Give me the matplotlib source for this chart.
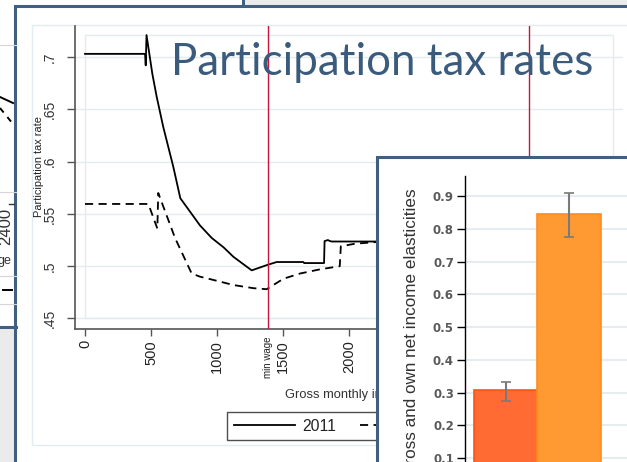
import matplotlib
matplotlib.use('Agg')
import matplotlib.pyplot as plt
from matplotlib.patches import Rectangle

plt.rcParams['font.family'] = ['Liberation Sans', 'DejaVu Sans']

# ---- data ----
income_2011 = [0, 455, 460, 466, 510, 543, 593, 669, 722, 871, 960, 1050, 1124, 1263,
               1376, 1452, 1654, 1660, 1811, 1815, 1840, 1856, 1870, 2250]
ptr_2011 = [0.703, 0.703, 0.692, 0.721, 0.684, 0.662, 0.633, 0.595, 0.565, 0.539,
            0.527, 0.518, 0.509, 0.496, 0.501, 0.504, 0.504, 0.503, 0.503, 0.524,
            0.525, 0.524, 0.5236, 0.5236]

income_other = [0, 480, 548, 555, 682, 808, 871, 1000, 1124, 1275, 1376, 1427, 1503,
                1629, 1780, 1930, 1938, 2045, 2250]
ptr_other = [0.5595, 0.5595, 0.536, 0.570, 0.527, 0.493, 0.490, 0.486, 0.482, 0.479,
             0.478, 0.482, 0.488, 0.493, 0.497, 0.500, 0.519, 0.5215, 0.5235]

series_labels = ['2011', '2014']
min_wage = 1387
second_marker = 3364

x_ticks = [0, 500, 1000, 1500, 2000, 2500, 3000, 3500, 4000]
y_ticks = [0.45, 0.5, 0.55, 0.6, 0.65, 0.7]
y_ticklabels = ['.45', '.5', '.55', '.6', '.65', '.7']

bar_values = [0.309, 0.845]
bar_low = [0.276, 0.775]
bar_high = [0.333, 0.908]
bar_colors = ['#ff6b33', '#ff9a33']
bar_edges = ['#ff5414', '#ff8c1f']
bar_ticks = [0.0, 0.1, 0.2, 0.3, 0.4, 0.5, 0.6, 0.7, 0.8, 0.9]

W, H = 627, 462
DARK = '#41607f'
LIGHT = '#e3ecef'


def rect(x0, y0, x1, y1):
    # pixel box (top-left origin) -> figure fraction
    return [x0 / W, 1 - y1 / H, (x1 - x0) / W, (y1 - y0) / H]


def fx(x):
    return x / W


def fy(y):
    return 1 - y / H


fig = plt.figure(figsize=(W / 100, H / 100), dpi=100)
fig.patch.set_facecolor('white')

# ---- background: neighbouring slides ----
bg = fig.add_axes([0, 0, 1, 1], zorder=0)
bg.set_xlim(0, W)
bg.set_ylim(H, 0)
bg.axis('off')
bg.add_patch(Rectangle((245, 0), 400, 6, color='#ebebeb', lw=0))
bg.add_patch(Rectangle((241.5, 0), 3, 6, color=DARK, lw=0))
bg.add_patch(Rectangle((0, 327), 16, 140, color='#ebebeb', lw=0))
bg.plot([0, 16], [327, 327], color=DARK, lw=2.2)
for yy in [45, 192, 276, 304]:
    bg.plot([0, 16], [yy, yy], color='#d6d6d6', lw=0.8)
bg.plot([0, 13], [97, 103], color='black', lw=1.4)
bg.plot([0, 13], [108, 124], color='black', lw=1.4, ls=(0, (3, 3)))
bg.plot([9, 14], [204, 204], color='#333333', lw=1)
bg.text(6, 226, '2400', rotation=90, ha='center', va='center', fontsize=12, color='#333333')
bg.text(-2, 261, 'ge', ha='left', va='center', fontsize=9, color='#333333')
bg.plot([3, 12], [290, 290], color='black', lw=1.4)

# main slide panel
bg.add_patch(Rectangle((15, 6), 700, 520, facecolor='white', edgecolor=DARK, lw=2.2))
bg.add_patch(Rectangle((32, 25), 620, 420, fill=False, edgecolor=LIGHT, lw=1))

# ---- participation tax rate chart ----
ax = fig.add_axes(rect(75, 26, 623, 329), zorder=1)
ax.set_facecolor('none')
ax.set_xlim(-75.8, 4075.8)
ax.set_ylim(0.43996, 0.72964)
for s in ['top', 'right']:
    ax.spines[s].set_visible(False)
for s in ['left', 'bottom']:
    ax.spines[s].set_color('#555555')
    ax.spines[s].set_linewidth(1.2)

ax.add_patch(Rectangle((0, 0.45), 4000, 0.271, fill=False, edgecolor=LIGHT, lw=1, zorder=1))
ax.set_yticks(y_ticks)
ax.set_yticklabels(y_ticklabels, rotation=90, va='center', fontsize=10, color='#333333')
ax.set_xticks(x_ticks)
ax.set_xticklabels([str(v) for v in x_ticks], rotation=90, fontsize=10.5, color='#222222')
ax.tick_params(axis='y', length=6, width=1, color='#555555', pad=7)
ax.tick_params(axis='x', length=5, width=1, color='#555555', pad=3)
ax.yaxis.grid(True, color=LIGHT, lw=1)
ax.set_axisbelow(True)

l1, = ax.plot(income_2011, ptr_2011, color='black', lw=1.3, zorder=3)
l2, = ax.plot(income_other, ptr_other, color='black', lw=1.3, ls=(0, (4.5, 3)), zorder=3)
ax.axvline(min_wage, color='#c8153c', lw=1, zorder=4)
ax.axvline(second_marker, color='#c8153c', lw=1, zorder=4)
ax.text(fx(268), fy(336), 'min wage', rotation=90, ha='center', va='top', fontsize=7,
        color='#222222', transform=fig.transFigure)

ax.text(fx(39), fy(167), 'Participation tax rate', rotation=90, ha='center', va='center',
        fontsize=7.9, color='#222222', transform=fig.transFigure)
ax.text(fx(349), fy(395), 'Gross monthly income', ha='center', va='center',
        fontsize=9.3, color='#333333', transform=fig.transFigure)

leg = ax.legend([l1, l2], series_labels, ncol=2, loc='upper left',
                bbox_to_anchor=(fx(227), fy(412)), bbox_transform=fig.transFigure,
                borderaxespad=0, frameon=True, fancybox=False, fontsize=11.3,
                handlelength=3.9, handletextpad=0.5, borderpad=0.42, columnspacing=1.5)
leg.get_frame().set_edgecolor('#222222')
leg.get_frame().set_linewidth(1)
for t in leg.get_texts():
    t.set_color('#222222')

# ---- slide title and the overlapping elasticities panel ----
top = fig.add_axes([0, 0, 1, 1], zorder=2)
top.set_xlim(0, W)
top.set_ylim(H, 0)
top.axis('off')
title = top.text(171, 75, 'Participation tax rates', ha='left', va='baseline',
                 fontsize=30, family='Lato', color='#3b5b7d')
fig.canvas.draw()
w = title.get_window_extent().width
title.set_fontsize(30 * 421 / w)

top.add_patch(Rectangle((377, 157), 400, 400, facecolor='white', edgecolor=DARK, lw=2.2))
top.text(412, 188, 'Cross and own net income elasticities', rotation=90, ha='center',
         va='top', fontsize=12.3, color='#333333')

axb = fig.add_axes(rect(465, 176, 627, 491), zorder=3)
axb.set_facecolor('none')
axb.set_xlim(-0.642, 1.917)
axb.set_ylim(0, 0.961)
for s in ['top', 'right', 'bottom']:
    axb.spines[s].set_visible(False)
axb.spines['left'].set_color('black')
axb.spines['left'].set_linewidth(1)
axb.set_xticks([])
axb.set_yticks(bar_ticks)
axb.set_yticklabels(['%.1f' % v for v in bar_ticks], fontsize=8.5, family='DejaVu Sans',
                    fontweight='bold', color='#5a5a5a')
axb.tick_params(axis='y', length=6, width=1, color='black', pad=2)
axb.yaxis.grid(True, color='#e6edf1', lw=1.5)
axb.set_axisbelow(True)
axb.bar([0, 1], bar_values, width=1, color=bar_colors, edgecolor=bar_edges, lw=1.2, zorder=2)
yerr = [[v - lo for v, lo in zip(bar_values, bar_low)],
        [hi - v for v, hi in zip(bar_values, bar_high)]]
axb.errorbar([0, 1], bar_values, yerr=yerr, fmt='none', ecolor='#7a7a7a', elinewidth=1.5,
             capsize=3.5, capthick=1.2, zorder=3)

fig.savefig('out.png', dpi=100)
